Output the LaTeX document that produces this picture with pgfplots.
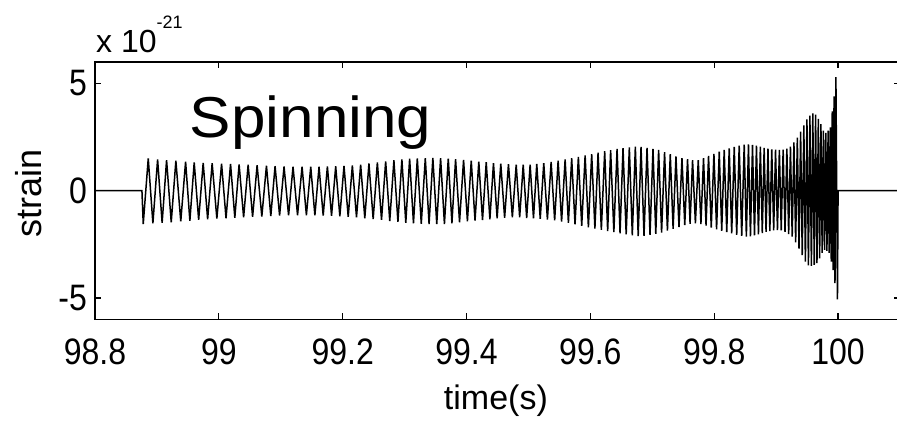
\documentclass[border=0pt]{standalone}
\usepackage{graphicx}
\usepackage{pgfplots}
\pgfplotsset{compat=1.18}
\usepackage{pgfplotstable}
\usepackage{fontspec}
\setmainfont{Liberation Sans}
\newcommand\vs[1]{\scalebox{1}[1.15]{#1}}

\pgfplotstableread{
t v
98.8 0
98.8758 0
98.8779 -1.55
98.8860 1.51
98.8935 -1.52
98.9011 1.46
98.9084 -1.50
98.9156 1.43
98.9231 -1.47
98.9306 1.40
98.9385 -1.43
98.9463 1.36
98.9532 -1.40
98.9602 1.32
98.9674 -1.36
98.9747 1.30
98.9819 -1.33
98.9892 1.28
98.9968 -1.30
99.0044 1.26
99.0116 -1.28
99.0189 1.25
99.0258 -1.26
99.0327 1.23
99.0400 -1.24
99.0473 1.21
99.0545 -1.22
99.0618 1.19
99.0694 -1.20
99.0769 1.17
99.0839 -1.18
99.0908 1.15
99.0981 -1.16
99.1053 1.13
99.1126 -1.15
99.1198 1.12
99.1271 -1.14
99.1344 1.12
99.1414 -1.14
99.1484 1.12
99.1551 -1.15
99.1618 1.12
99.1685 -1.16
99.1753 1.13
99.1820 -1.17
99.1887 1.14
99.1954 -1.19
99.2021 1.16
99.2089 -1.21
99.2156 1.18
99.2223 -1.24
99.2290 1.22
99.2357 -1.28
99.2424 1.27
99.2492 -1.32
99.2560 1.32
99.2627 -1.36
99.2694 1.37
99.2760 -1.41
99.2827 1.42
99.2892 -1.45
99.2956 1.46
99.3019 -1.49
99.3081 1.50
99.3143 -1.52
99.3205 1.51
99.3269 -1.54
99.3334 1.52
99.3395 -1.55
99.3456 1.53
99.3519 -1.55
99.3581 1.52
99.3643 -1.55
99.3705 1.50
99.3764 -1.52
99.3823 1.47
99.3887 -1.47
99.3952 1.44
99.4014 -1.42
99.4076 1.40
99.4137 -1.39
99.4198 1.36
99.4258 -1.37
99.4318 1.33
99.4377 -1.33
99.4435 1.29
99.4494 -1.29
99.4553 1.26
99.4615 -1.26
99.4677 1.24
99.4740 -1.24
99.4802 1.22
99.4858 -1.24
99.4915 1.22
99.4971 -1.27
99.5027 1.22
99.5081 -1.29
99.5134 1.25
99.5190 -1.31
99.5247 1.29
99.5306 -1.34
99.5366 1.34
99.5423 -1.38
99.5479 1.40
99.5535 -1.44
99.5592 1.46
99.5645 -1.50
99.5698 1.52
99.5752 -1.57
99.5806 1.58
99.5860 -1.64
99.5915 1.65
99.5968 -1.70
99.6021 1.71
99.6073 -1.76
99.6124 1.77
99.6177 -1.82
99.6231 1.84
99.6279 -1.88
99.6327 1.89
99.6379 -1.93
99.6431 1.95
99.6479 -1.98
99.6527 1.99
99.6578 -2.03
99.6629 2.02
99.6677 -2.08
99.6726 2.05
99.6772 -2.11
99.6818 2.04
99.6866 -2.10
99.6915 2.00
99.6963 -2.06
99.7011 1.95
99.7056 -2.01
99.7102 1.90
99.7150 -1.95
99.7198 1.80
99.7244 -1.86
99.7290 1.70
99.7336 -1.77
99.7382 1.60
99.7431 -1.69
99.7479 1.52
99.7524 -1.60
99.7569 1.47
99.7610 -1.54
99.7650 1.43
99.7696 -1.52
99.7742 1.43
99.7785 -1.55
99.7827 1.52
99.7868 -1.62
99.7908 1.62
99.7952 -1.72
99.7995 1.72
99.8038 -1.80
99.8081 1.82
99.8121 -1.87
99.8161 1.90
99.8202 -1.93
99.8242 1.97
99.8282 -1.99
99.8323 2.04
99.8363 -2.05
99.8403 2.10
99.8444 -2.10
99.8484 2.15
99.8519 -2.14
99.8553 2.16
99.8585 -2.13
99.8618 2.14
99.8650 -2.08
99.8682 2.10
99.8714 -2.03
99.8745 2.05
99.8776 -1.98
99.8806 2.00
99.8837 -1.92
99.8868 1.96
99.8898 -1.88
99.8929 1.93
99.8960 -1.85
99.8990 1.91
99.9021 -1.83
99.9052 1.90
99.9082 -1.85
99.9113 1.92
99.9143 -1.92
99.9173 1.96
99.9202 -2.02
99.9231 2.05
99.9259 -2.14
99.9287 2.25
99.9315 -2.40
99.9342 2.48
99.9369 -2.70
99.9395 2.75
99.9421 -3.00
99.9447 3.05
99.9472 -3.30
99.9497 3.32
99.9521 -3.48
99.9545 3.50
99.9569 -3.50
99.9592 3.60
99.9615 -3.45
99.9637 3.55
99.9659 -3.37
99.9681 3.35
99.9702 -3.15
99.9723 3.10
99.9743 -2.90
99.9763 2.80
99.9782 -2.76
99.9802 2.70
99.9820 -2.80
99.9839 2.80
99.9856 -2.90
99.9874 2.95
99.9890 -3.30
99.9906 3.70
99.9921 -3.70
99.9935 4.40
99.9950 -4.30
99.9965 5.30
99.9990 -5.06
100.0000 0
100.1 0
}\wave

\begin{document}
\begin{tikzpicture}
\begin{axis}[
  scale only axis,
  width=805pt, height=257.5pt,
  at={(0,0)}, anchor=south west,
  xmin=98.8, xmax=100.1,
  ymin=-6, ymax=6,
  xtick={98.8,99,99.2,99.4,99.6,99.8,100},
  xticklabels={\vs{98.8},\vs{99},\vs{99.2},\vs{99.4},\vs{99.6},\vs{99.8},\vs{100}},
  ytick={-5,0,5},
  yticklabels={\vs{-5},\vs{0},\vs{5}},
  tick align=inside,
  major tick length=6pt,
  axis line style={line width=1.2pt},
  every tick/.style={black, line width=1.2pt},
  xticklabel style={font=\fontsize{32}{38}\selectfont, anchor=base, inner sep=0pt, yshift=-45.5pt},
  yticklabel style={font=\fontsize{32}{38}\selectfont, anchor=east, inner sep=0pt, xshift=-8pt},
  xlabel={time(s)},
  xlabel style={font=\fontsize{34}{40}\selectfont, at={(axis description cs:0.498,-0.35)}, anchor=base, inner sep=0pt},
  ylabel={strain},
  ylabel style={font=\fontsize{36}{42}\selectfont, at={(axis description cs:-0.082,0.49)}, anchor=center, inner sep=0pt},
  clip mode=individual,
]
\addplot[black, line width=1.5pt, mark=none] table[x=t, y=v] {\wave};
\node[anchor=base west, inner sep=0pt, font=\fontsize{62}{70}\selectfont] at (axis cs:98.953,2.5) {\scalebox{1}[0.93]{Spinning}};
\node[anchor=base west, inner sep=0pt, font=\fontsize{32}{38}\selectfont] at ([xshift=1pt, yshift=9pt]rel axis cs:0,1) {x 10\raisebox{24pt}{\fontsize{18}{20}\selectfont -21}};
\end{axis}
\pgfresetboundingbox
\path[use as bounding box] (-95pt,-102.5pt) rectangle (802pt,319.5pt);
\end{tikzpicture}
\end{document}
